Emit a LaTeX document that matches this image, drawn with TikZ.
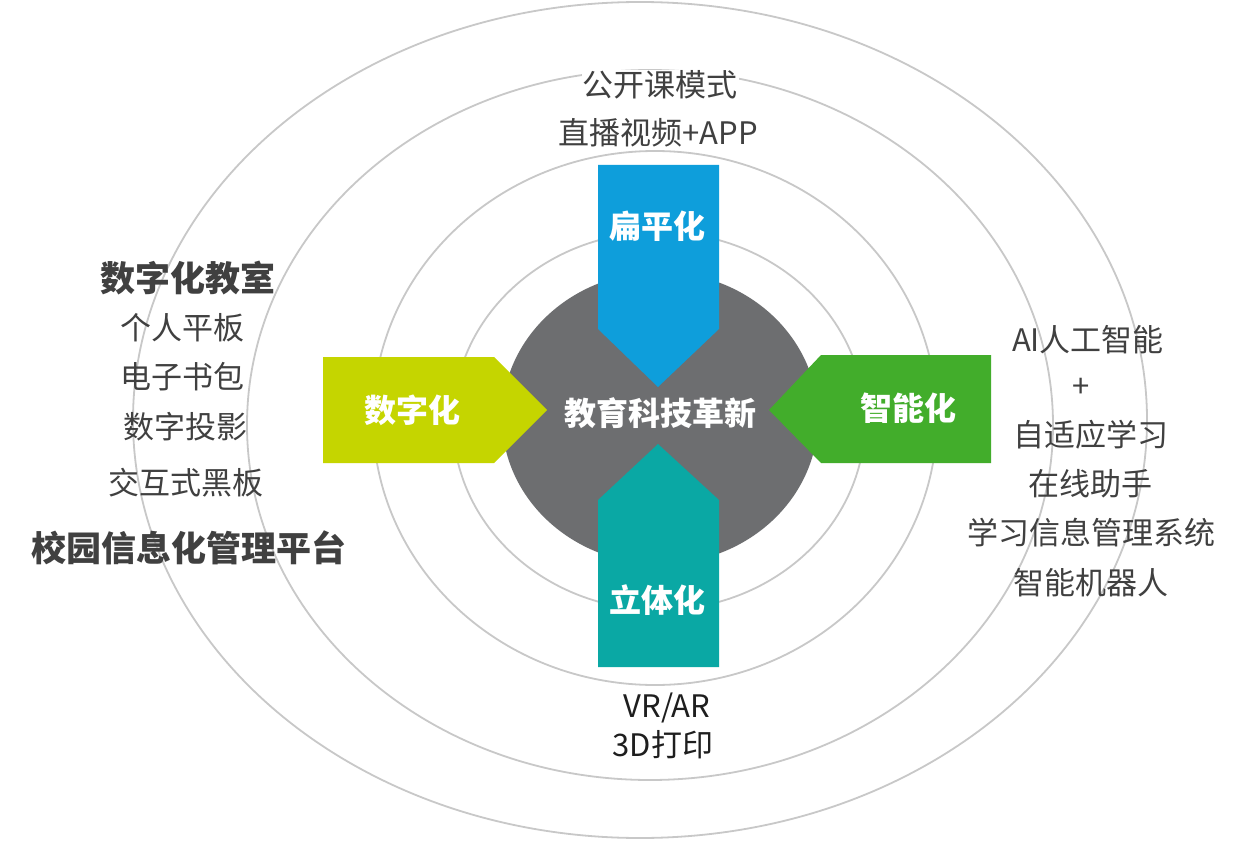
\documentclass[tikz,border=0pt]{standalone}
\usepackage{fontspec}
\newfontfamily\cjk{Noto Sans CJK SC}
\definecolor{ringc}{RGB}{200,200,200}
\definecolor{hub}{RGB}{109,110,112}
\definecolor{cblue}{RGB}{14,158,219}
\definecolor{clime}{RGB}{197,213,0}
\definecolor{cgreen}{RGB}{66,173,43}
\definecolor{cteal}{RGB}{10,168,164}
\definecolor{txt}{RGB}{64,64,64}
\definecolor{txtd}{RGB}{30,30,30}
\tikzset{
  ringline/.style={draw=ringc, line width=1.8pt},
  lab/.style={font=\cjk\fontsize{31}{36}\selectfont, text=txt, inner sep=1pt},
  labw/.style={lab, fill=white},
  labd/.style={lab, text=txtd},
  head/.style={font=\cjk\bfseries\fontsize{35}{40}\selectfont, text=txt, inner sep=1pt},
  boxlab/.style={font=\cjk\bfseries\fontsize{32}{36}\selectfont, text=white, inner sep=1pt},
}
\begin{document}
\begin{tikzpicture}[x=1pt,y=-1pt]
\useasboundingbox (0,0) rectangle (1250,845);
\fill[white] (0,0) rectangle (1250,845);
% rings
\draw[ringline] (640,420) ellipse [x radius=507pt, y radius=418pt];
\draw[ringline] (650,425) ellipse [x radius=403pt, y radius=355pt];
\draw[ringline] (655,418) ellipse [x radius=282pt, y radius=267pt];
\draw[ringline] (659,421) ellipse [x radius=206pt, y radius=189pt];
% hub
\fill[hub] (660,418) ellipse [x radius=158pt, y radius=146pt];
% arrows
\fill[cblue] (598,165) -- (719,165) -- (719,329) -- (658,387) -- (598,329) -- cycle;
\fill[cteal] (598,667) -- (598,500) -- (658,444) -- (719,500) -- (719,667) -- cycle;
\fill[clime] (323,357) -- (494,357) -- (547,410) -- (494,463) -- (323,463) -- cycle;
\fill[cgreen] (991,355) -- (821,355) -- (769,410) -- (821,463) -- (991,463) -- cycle;
% labels in shapes
\node[boxlab] (flat) at (657,226) {扁平化};
\node[boxlab] (digi) at (412,410) {数字化};
\node[boxlab] (smart) at (908,408) {智能化};
\node[boxlab] (solid) at (657,600) {立体化};
\node[boxlab] (core) at (660,413) {教育科技革新};
% top
\node[labw] (t1) at (660,85) {公开课模式};
\node[labw] (t2) at (658,133) {直播视频+APP};
% left
\node[head] (l0) at (188,278) {数字化教室};
\node[lab] (l1) at (182,328) {个人平板};
\node[lab] (l2) at (182,377) {电子书包};
\node[lab] (l3) at (185,427) {数字投影};
\node[lab] (l4) at (186,483) {交互式黑板};
\node[head] (l5) at (189,548) {校园信息化管理平台};
% right
\node[lab] (r1) at (1088,340) {AI人工智能};
\node[lab] (r2) at (1081,388) {+};
\node[lab] (r3) at (1091,435) {自适应学习};
\node[lab] (r4) at (1090,484) {在线助手};
\node[lab] (r5) at (1091,533) {学习信息管理系统};
\node[lab] (r6) at (1091,583) {智能机器人};
% bottom
\node[labd] (b1) at (667,708) {VR/AR};
\node[labd] (b2) at (663,745) {3D打印};
\end{tikzpicture}
\end{document}
